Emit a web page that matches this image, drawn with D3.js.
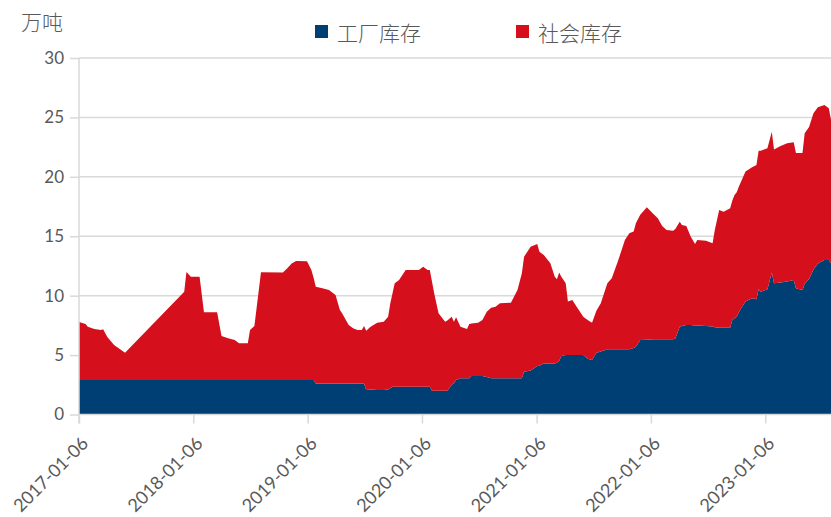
<!DOCTYPE html>
<html>
<head>
<meta charset="utf-8">
<script src="https://cdn.jsdelivr.net/npm/d3@7/dist/d3.min.js"></script>
<style>
  body { margin: 0; background: #fff; }
  svg { display: block; }
</style>
</head>
<body>
<svg id="chart" width="831" height="517"></svg>
<script>
// weekly dates (at the turning points)
var dates = [
  "2017-01-06","2017-01-27","2017-02-03","2017-02-24","2017-03-17","2017-03-24","2017-04-07","2017-04-28","2017-06-02",
  "2017-12-08","2017-12-15","2017-12-29","2018-01-26","2018-02-09","2018-03-23","2018-04-06","2018-04-27","2018-05-18",
  "2018-06-01","2018-06-29","2018-07-06","2018-07-20","2018-08-10","2018-10-19","2018-11-02","2018-11-16","2018-11-30",
  "2019-01-04","2019-01-18","2019-01-25","2019-02-01","2019-02-22","2019-03-15","2019-04-05","2019-04-19","2019-04-26",
  "2019-05-17","2019-05-31","2019-06-14","2019-06-28","2019-07-05","2019-07-12","2019-07-26","2019-08-16","2019-09-06",
  "2019-09-20","2019-09-27","2019-10-04","2019-10-11","2019-10-25","2019-11-15","2019-12-27","2020-01-10","2020-01-24",
  "2020-01-31","2020-02-07","2020-02-14","2020-02-28","2020-03-20","2020-03-27","2020-04-10","2020-04-17","2020-04-24",
  "2020-05-08","2020-05-29","2020-06-05","2020-06-12","2020-07-03","2020-07-17","2020-07-31","2020-08-14","2020-08-28",
  "2020-09-11","2020-10-16","2020-11-06","2020-11-20","2020-11-27","2020-12-18","2021-01-08","2021-01-15","2021-01-29",
  "2021-02-19","2021-03-05","2021-03-12","2021-03-19","2021-03-26","2021-04-09","2021-04-16","2021-04-30","2021-05-14",
  "2021-06-04","2021-06-18","2021-07-02","2021-07-16","2021-07-30","2021-08-20","2021-09-03","2021-09-24","2021-10-15",
  "2021-10-29","2021-11-12","2021-11-19","2021-12-03","2021-12-24","2022-01-14","2022-01-28","2022-02-11","2022-02-25",
  "2022-03-18","2022-03-25","2022-04-08","2022-04-15","2022-04-29","2022-05-13","2022-05-27","2022-06-03","2022-07-01",
  "2022-07-22","2022-07-29","2022-08-12","2022-08-26","2022-09-16","2022-09-23","2022-09-30","2022-10-07","2022-10-14",
  "2022-10-21","2022-11-04","2022-11-25","2022-12-09","2022-12-16","2022-12-23","2023-01-13","2023-01-27","2023-02-03",
  "2023-02-24","2023-03-17","2023-04-07","2023-04-14","2023-05-05","2023-05-12","2023-05-26","2023-06-09","2023-06-23",
  "2023-07-14","2023-07-28","2023-08-04"
];

// 工厂库存 (万吨)
var factory = [
  2.9,2.9,2.9,2.9,2.9,2.9,2.9,2.9,2.9,
  2.9,2.9,2.9,2.9,2.9,2.9,2.9,2.9,2.9,
  2.9,2.9,2.9,2.9,2.9,2.9,2.9,2.9,2.9,
  2.9,2.9,2.9,2.6,2.6,2.6,2.6,2.6,2.6,
  2.6,2.6,2.6,2.6,2.6,2.06,2.1,2.06,2.06,
  2.1,2.2,2.34,2.34,2.34,2.34,2.34,2.34,2.34,
  2.34,2.0,2.0,2.0,2.0,2.0,2.5,2.63,2.9,
  3.05,3.05,3.05,3.24,3.24,3.24,3.15,3.05,3.05,
  3.05,3.05,3.05,3.05,3.6,3.7,4.08,4.1,4.3,
  4.3,4.3,4.36,4.5,4.92,5.0,5.0,5.0,5.0,
  5.0,4.7,4.59,5.2,5.3,5.49,5.49,5.49,5.49,
  5.49,5.6,5.71,6.27,6.3,6.33,6.33,6.33,6.33,
  6.33,6.4,7.39,7.45,7.53,7.53,7.5,7.5,7.45,
  7.4,7.35,7.3,7.3,7.3,7.95,8.1,8.23,8.6,
  8.94,9.5,9.78,9.7,10.54,10.34,10.54,11.94,11.04,
  11.1,11.2,11.32,10.62,10.48,11.0,11.4,12.2,12.7,
  13.0,13.0,12.73
];

// 社会库存 (万吨)
var social = [
  4.89,4.72,4.49,4.3,4.21,4.27,3.6,2.95,2.3,
  7.44,9.1,8.7,8.7,5.7,5.7,3.7,3.51,3.37,
  3.1,3.1,4.21,4.55,9.07,9.04,9.4,9.8,10.02,
  10.0,9.26,8.6,8.16,8.02,7.88,7.46,6.2,5.92,
  4.93,4.66,4.51,4.51,4.85,4.99,5.29,5.67,5.75,
  6.13,7.16,7.86,8.7,8.98,9.82,9.82,10.1,9.82,
  9.82,9.2,8.2,6.52,5.81,5.9,5.73,5.18,5.28,
  4.34,4.15,4.57,4.41,4.49,4.71,5.5,5.94,6.02,
  6.31,6.36,7.43,8.83,9.68,10.42,10.27,9.6,9.13,
  8.43,7.3,7.02,7.44,6.68,6.04,4.5,4.64,4.07,
  3.23,3.25,3.14,3.54,4.06,5.55,5.97,7.51,9.2,
  9.76,9.79,10.39,10.53,11.14,10.55,10.19,9.54,9.2,
  9.14,9.2,8.84,8.5,8.34,7.44,6.85,7.19,7.18,
  7.01,8.18,9.91,9.77,10.06,10.05,10.38,10.47,10.58,
  10.66,10.94,11.02,11.3,11.66,11.86,11.86,11.86,11.26,
  11.5,11.63,11.58,11.38,11.52,12.67,12.8,13.15,13.16,
  13.05,12.77,12.07
];

var seriesKeys = ["factory", "social"];
var seriesNames = ["工厂库存", "社会库存"];
var seriesColors = ["#003f73", "#d50f1c"];
var yTicks = [0, 5, 10, 15, 20, 25, 30];
var xTickLabels = ["2017-01-06","2018-01-06","2019-01-06","2020-01-06","2021-01-06","2022-01-06","2023-01-06"];
var unitLabel = "万吨";

function drawChart() {
  var svg = d3.select("#chart"),
      width = +svg.attr("width"),
      plotLeft = 79, plotTop = 58, plotBottom = 414.5;

  var parse = d3.timeParse("%Y-%m-%d");
  var rows = dates.map(function(d, i) {
    return { date: parse(d), factory: factory[i], social: social[i] };
  });

  var x = d3.scaleTime()
      .domain(d3.extent(rows, function(d) { return d.date; }))
      .range([plotLeft, width]);
  var y = d3.scaleLinear()
      .domain([0, 30])
      .range([plotBottom, plotTop]);

  var textFont = "Lato, 'Noto Sans', sans-serif";
  var cjkFont = "'Noto Sans CJK SC', sans-serif";
  var grey = "#595959", lineGrey = "#d9d9d9";

  // gridlines
  svg.append("g").selectAll("line")
    .data(yTicks.slice(1))
    .enter().append("line")
    .attr("x1", plotLeft).attr("x2", width)
    .attr("y1", function(d) { return y(d); })
    .attr("y2", function(d) { return y(d); })
    .attr("stroke", lineGrey)
    .attr("stroke-width", 1.5);

  // stacked areas
  var stack = d3.stack().keys(seriesKeys);
  var area = d3.area()
      .x(function(d) { return x(d.data.date); })
      .y0(function(d) { return y(d[0]); })
      .y1(function(d) { return y(d[1]); });

  svg.append("g").selectAll("path")
    .data(stack(rows))
    .enter().append("path")
    .attr("fill", function(d, i) { return seriesColors[i]; })
    .attr("d", area);

  // y axis
  var yAxis = svg.append("g")
    .attr("transform", "translate(" + plotLeft + ",0)")
    .call(d3.axisLeft(y).tickValues(yTicks).tickSize(9).tickPadding(6));
  yAxis.select(".domain").attr("stroke", lineGrey).attr("stroke-width", 1.5)
    .attr("d", "M0," + plotTop + "V" + (plotBottom + 9));
  yAxis.selectAll(".tick line").attr("stroke", lineGrey).attr("stroke-width", 1.5);
  yAxis.selectAll(".tick text")
    .attr("fill", grey).style("font-family", textFont).style("font-size", "17px");

  // x axis
  var xAxis = svg.append("g")
    .attr("transform", "translate(0," + plotBottom + ")")
    .call(d3.axisBottom(x).tickValues(xTickLabels.map(parse)).tickSize(9)
      .tickFormat(d3.timeFormat("%Y-%m-%d")));
  xAxis.select(".domain").attr("stroke", lineGrey).attr("stroke-width", 1.5)
    .attr("d", "M" + plotLeft + ",0H" + width);
  xAxis.selectAll(".tick line").attr("stroke", lineGrey).attr("stroke-width", 1.5);
  xAxis.selectAll(".tick text")
    .attr("fill", grey).style("font-family", textFont).style("font-size", "18px")
    .attr("text-anchor", "end")
    .attr("dy", null)
    .attr("y", 0)
    .attr("transform", "translate(10,30) rotate(-45)");

  // unit label
  svg.append("text")
    .attr("x", 21).attr("y", 21)
    .attr("dominant-baseline", "central")
    .attr("fill", grey)
    .style("font-family", cjkFont).style("font-size", "21px").style("font-weight", 300)
    .text(unitLabel);

  // legend
  var legendX = [315, 516];
  var legend = svg.append("g").selectAll("g")
    .data(seriesNames)
    .enter().append("g")
    .attr("transform", function(d, i) { return "translate(" + legendX[i] + ",25)"; });
  legend.append("rect")
    .attr("width", 13).attr("height", 13)
    .attr("fill", function(d, i) { return seriesColors[i]; });
  legend.append("text")
    .attr("x", 22).attr("y", 7)
    .attr("dominant-baseline", "central")
    .attr("fill", grey)
    .style("font-family", cjkFont).style("font-size", "21px").style("font-weight", 300)
    .text(function(d) { return d; });
}

drawChart();
</script>
</body>
</html>
